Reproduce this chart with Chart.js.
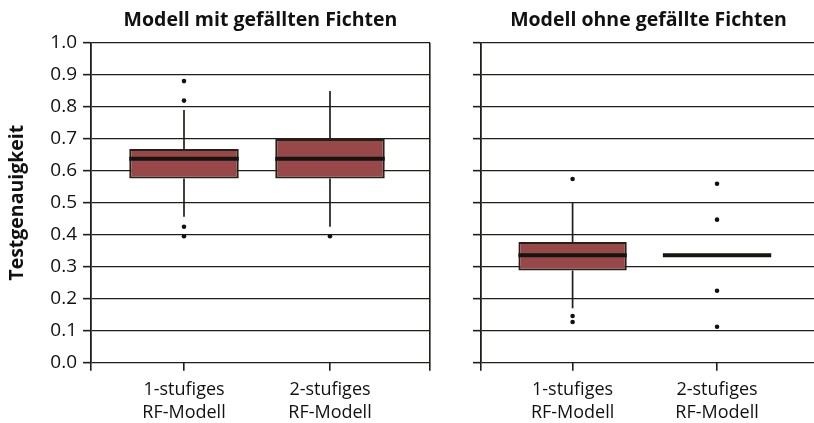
<!DOCTYPE html>
<html>
<head>
<meta charset="utf-8">
<script src="https://cdn.jsdelivr.net/npm/chart.js@4/dist/chart.umd.min.js"></script>
<style>
  html, body { margin: 0; padding: 0; background: #fff; overflow: hidden; }
  #wrap { position: relative; width: 814px; height: 423px; overflow: hidden; }
  canvas { position: absolute; top: 0; }
  #c1 { left: 0; }
  #c2 { left: 440px; }
</style>
</head>
<body>
<div id="wrap">
  <canvas id="c1" width="440" height="423"></canvas>
  <canvas id="c2" width="380" height="423"></canvas>
</div>
<script>
// ---- Data ----
const categories = [['1-stufiges', 'RF-Modell'], ['2-stufiges', 'RF-Modell']];
const categoryPositions = [1, 2];
const yTicks = [0, 0.1, 0.2, 0.3, 0.4, 0.5, 0.6, 0.7, 0.8, 0.9, 1.0];

const titleLeft = 'Modell mit gefällten Fichten';
const titleRight = 'Modell ohne gefällte Fichten';
const yAxisTitle = 'Testgenauigkeit';

// Panel 1: Modell mit gefällten Fichten
const p1Q1 = [0.576, 0.576];
const p1Q3 = [0.668, 0.699];
const p1Median = [0.637, 0.637];
const p1WhiskerLow = [0.456, 0.425];
const p1WhiskerHigh = [0.790, 0.849];
const p1Outliers1 = [0.880, 0.819, 0.425, 0.395];
const p1Outliers2 = [0.395];

// Panel 2: Modell ohne gefällte Fichten
const p2Q1 = [0.288, null];
const p2Q3 = [0.377, null];
const p2Median = [0.336, 0.336];
const p2WhiskerLow = [0.170, null];
const p2WhiskerHigh = [0.500, null];
const p2Outliers1 = [0.574, 0.146, 0.127];
const p2Outliers2 = [0.559, 0.447, 0.225, 0.1125];

// ---- Styling ----
const FONT = "'Open Sans', 'Noto Sans', sans-serif";
const DARK = '#1f1f1a';
const BOX_FILL = '#984848';
const BOX_FRACTION = 0.75;

const boxExtras = {
  id: 'boxExtras',
  afterDatasetsDraw(chart, args, opts) {
    const { ctx, scales: { x, y } } = chart;
    const unit = x.getPixelForValue(1) - x.getPixelForValue(0);
    const half = unit * BOX_FRACTION / 2;
    ctx.save();
    ctx.lineCap = 'butt';
    opts.positions.forEach((pos, i) => {
      const cx = x.getPixelForValue(pos);
      ctx.strokeStyle = DARK;
      ctx.lineWidth = 1.7;
      if (opts.whiskerHigh[i] != null && opts.q3[i] != null) {
        ctx.beginPath();
        ctx.moveTo(cx, y.getPixelForValue(opts.q3[i]));
        ctx.lineTo(cx, y.getPixelForValue(opts.whiskerHigh[i]));
        ctx.stroke();
      }
      if (opts.whiskerLow[i] != null && opts.q1[i] != null) {
        ctx.beginPath();
        ctx.moveTo(cx, y.getPixelForValue(opts.q1[i]));
        ctx.lineTo(cx, y.getPixelForValue(opts.whiskerLow[i]));
        ctx.stroke();
      }
      if (opts.median[i] != null) {
        ctx.strokeStyle = '#151510';
        ctx.lineWidth = 4;
        ctx.beginPath();
        const my = y.getPixelForValue(opts.median[i]);
        ctx.moveTo(cx - half, my);
        ctx.lineTo(cx + half, my);
        ctx.stroke();
      }
    });
    ctx.restore();
  }
};

function makeChart(canvasId, cfg) {
  const xMin = cfg.xMin, xMax = cfg.xMax;
  const tickVals = cfg.rightBorder ? [xMin, ...categoryPositions, xMax] : [xMin, ...categoryPositions];
  let minGap = Infinity;
  for (let i = 1; i < tickVals.length; i++) minGap = Math.min(minGap, tickVals[i] - tickVals[i - 1]);
  const outlierData = [];
  cfg.outliers.forEach((arr, i) => arr.forEach(v => outlierData.push({ x: categoryPositions[i], y: v })));
  return new Chart(document.getElementById(canvasId), {
    type: 'bar',
    data: {
      datasets: [
        {
          type: 'scatter',
          data: outlierData,
          backgroundColor: '#111',
          borderColor: '#111',
          pointRadius: 2.3,
          borderWidth: 0,
          order: 0
        },
        {
          type: 'bar',
          data: categoryPositions.map((p, i) => ({ x: p, y: (cfg.q1[i] == null ? null : [cfg.q1[i], cfg.q3[i]]) })),
          backgroundColor: BOX_FILL,
          borderColor: '#222219',
          borderWidth: 2,
          borderSkipped: false,
          barPercentage: BOX_FRACTION / minGap,
          categoryPercentage: 1,
          order: 1
        }
      ]
    },
    options: {
      responsive: false,
      animation: false,
      events: [],
      layout: { padding: { left: 0, right: cfg.padRight, top: 0, bottom: 0 } },
      plugins: {
        legend: { display: false },
        tooltip: { enabled: false },
        title: {
          display: true,
          text: cfg.title,
          fullSize: false,
          color: '#111',
          font: { family: FONT, size: 19.5, weight: 'bold', lineHeight: 1.2 },
          padding: { top: 9, bottom: 10.3 }
        },
        boxExtras: {
          positions: categoryPositions,
          q1: cfg.q1, q3: cfg.q3, median: cfg.median,
          whiskerLow: cfg.whiskerLow, whiskerHigh: cfg.whiskerHigh
        }
      },
      scales: {
        x: {
          type: 'linear',
          min: xMin,
          max: xMax,
          offset: false,
          afterFit: s => { s.height = 60.3; },
          afterBuildTicks: s => { s.ticks = tickVals.map(v => ({ value: v })); },
          ticks: {
            autoSkip: false,
            maxRotation: 0,
            color: '#111',
            padding: 7,
            font: { family: FONT, size: 18, lineHeight: 1.3 },
            callback: (v) => {
              const idx = categoryPositions.indexOf(v);
              return idx >= 0 ? categories[idx] : '';
            }
          },
          grid: {
            offset: false,
            drawOnChartArea: true,
            drawTicks: true,
            tickLength: 8,
            lineWidth: 1.6,
            color: ctx => (cfg.rightBorder && ctx.tick && ctx.tick.value === xMax) ? DARK : 'rgba(0,0,0,0)',
            tickColor: DARK,
            tickWidth: 1.6
          },
          border: { display: false }
        },
        y: {
          type: 'linear',
          min: 0,
          max: 1,
          afterFit: s => { s.width = cfg.yWidth; },
          afterBuildTicks: s => { s.ticks = yTicks.map(v => ({ value: v })); },
          ticks: {
            color: '#111',
            padding: 6,
            display: cfg.showYLabels,
            font: { family: FONT, size: 19 },
            callback: v => v.toFixed(1)
          },
          title: {
            display: cfg.showYLabels,
            text: yAxisTitle,
            color: '#111',
            font: { family: FONT, size: 19.5, weight: 'bold', lineHeight: 1.2 },
            padding: { top: 6, bottom: 0 }
          },
          grid: {
            color: DARK,
            lineWidth: 1.3,
            tickLength: 8,
            tickColor: DARK,
            tickWidth: 1.6,
            drawTicks: true
          },
          border: { display: true, color: DARK, width: 1.8 }
        }
      }
    },
    plugins: [boxExtras]
  });
}

makeChart('c1', {
  title: titleLeft,
  q1: p1Q1, q3: p1Q3, median: p1Median,
  whiskerLow: p1WhiskerLow, whiskerHigh: p1WhiskerHigh,
  outliers: [p1Outliers1, p1Outliers2],
  xMin: 0.363, xMax: 2.685,
  yWidth: 91, padRight: 10,
  rightBorder: true, showYLabels: true
});

makeChart('c2', {
  title: titleRight,
  q1: p2Q1, q3: p2Q3, median: p2Median,
  whiskerLow: p2WhiskerLow, whiskerHigh: p2WhiskerHigh,
  outliers: [p2Outliers1, p2Outliers2],
  xMin: 0.366, xMax: 2.685,
  yWidth: 41, padRight: 1,
  rightBorder: false, showYLabels: false
});
</script>
</body>
</html>
